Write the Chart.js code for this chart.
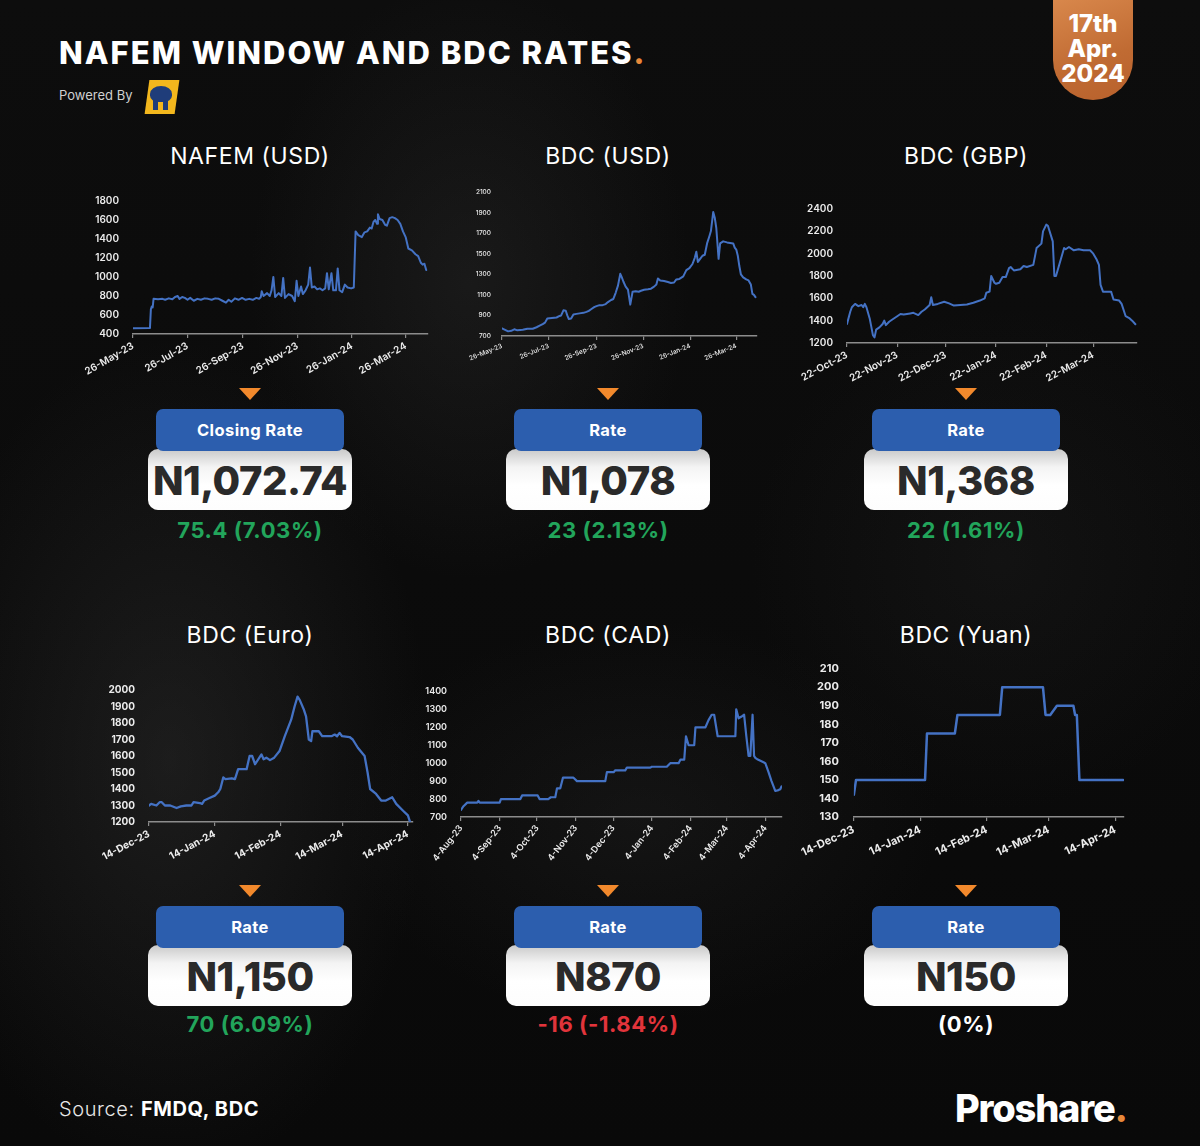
<!DOCTYPE html>
<html><head><meta charset="utf-8">
<script src="https://cdn.jsdelivr.net/npm/chart.js@4.4.1/dist/chart.umd.min.js"></script>
<style>
html,body{margin:0;padding:0;}
body{width:1200px;height:1146px;overflow:hidden;background:#0a0a0a;font-family:Inter,"Open Sans",sans-serif;}
#page{position:relative;width:1200px;height:1146px;overflow:hidden;
 background:
  radial-gradient(ellipse 260px 420px at 170px 760px, rgba(70,70,70,0.30), rgba(0,0,0,0) 100%),
  radial-gradient(ellipse 220px 300px at 470px 280px, rgba(60,60,60,0.28), rgba(0,0,0,0) 100%),
  radial-gradient(ellipse 300px 200px at 640px 820px, rgba(55,55,55,0.22), rgba(0,0,0,0) 100%),
  radial-gradient(ellipse 250px 250px at 1000px 560px, rgba(40,40,40,0.25), rgba(0,0,0,0) 100%),
  linear-gradient(#0d0d0d,#090909);}
.abs{position:absolute;}
canvas.ch{position:absolute;}
.title{left:59px;top:34px;color:#fff;font-weight:800;font-size:31px;letter-spacing:2px;white-space:nowrap;}
.dot{color:#e8883a;}
.powered{left:59px;top:87px;color:#d0d0d0;font-size:13px;font-weight:400;}
.badge{left:1053px;top:-2px;width:80px;height:102px;border-radius:0 0 40px 40px;
 background:linear-gradient(160deg,#d9884c,#c06b33 60%,#b8612c);color:#fff;font-weight:800;font-size:24px;line-height:25px;text-align:center;padding-top:13px;box-sizing:border-box;}
.ctitle{color:#fff;font-size:23px;font-weight:400;letter-spacing:0.6px;text-align:center;width:300px;margin-left:-150px;white-space:nowrap;}
.tri{width:0;height:0;border-left:11px solid transparent;border-right:11px solid transparent;border-top:12px solid #f2892c;margin-left:-11px;}
.blue{width:188px;height:42px;margin-left:-94px;background:#2c5eae;border-radius:7px;color:#fff;font-weight:700;font-size:16.5px;letter-spacing:0.4px;text-align:center;line-height:42px;z-index:2;}
.white{width:204px;height:61px;margin-left:-102px;border-radius:10px;background:linear-gradient(#c9c9c9 0%,#f4f4f4 30%,#ffffff 60%,#fdfdfd 100%);color:#2a2a2a;font-weight:800;font-size:40px;text-align:center;line-height:64px;letter-spacing:-0.5px;z-index:1;}
.chg{width:300px;margin-left:-150px;text-align:center;font-weight:700;font-size:22px;letter-spacing:0.6px;}
.green{color:#22a55b;}
.red{color:#e2343b;}
.wht{color:#fff;}
.src{left:59px;top:1097px;color:#e8e8e8;font-size:20px;font-weight:300;letter-spacing:0.6px;}
.src b{font-weight:700;color:#fff;}
.brand{left:955px;top:1085px;color:#fff;font-weight:800;font-size:38px;letter-spacing:-1.2px;}
</style></head>
<body><div id="page">
<div class="abs title">NAFEM WINDOW AND BDC RATES<span class="dot">.</span></div>
<div class="abs powered">Powered By</div>
<div class="abs" style="left:147px;top:80px;width:30px;height:34px;background:#f3b71d;transform:skewX(-8deg);"></div>
<div class="abs" style="left:150px;top:86px;width:22px;height:16px;background:#1f3d7a;border-radius:50% 50% 40% 40%;"></div>
<div class="abs" style="left:153px;top:100px;width:5px;height:10px;background:#1f3d7a;"></div>
<div class="abs" style="left:163px;top:100px;width:5px;height:10px;background:#1f3d7a;"></div>
<div class="abs badge">17th<br>Apr.<br>2024</div>

<div class="abs src">Source: <b>FMDQ, BDC</b></div>
<div class="abs brand">Proshare<span class="dot">.</span></div>
</div>
<script>
// ---------- DATA ----------
const chartTitles = ['NAFEM (USD)','BDC (USD)','BDC (GBP)','BDC (Euro)','BDC (CAD)','BDC (Yuan)'];
const boxLabels = ['Closing Rate','Rate','Rate','Rate','Rate','Rate'];
const rateValues = ['N1,072.74','N1,078','N1,368','N1,150','N870','N150'];
const rateChanges = ['75.4 (7.03%)','23 (2.13%)','22 (1.61%)','70 (6.09%)','-16 (-1.84%)','(0%)'];
const changeDir = ['up','up','up','up','down','flat'];

// NAFEM (USD): days since 26-May-23
const nafemTickDays = [0,61,123,184,245,305];
const nafemTickLabels = ['26-May-23','26-Jul-23','26-Sep-23','26-Nov-23','26-Jan-24','26-Mar-24'];
const nafemDays = [0,18,19,20,21,22,23,28,33,36,40,44,47,50,52,55,58,61,64,68,72,76,80,84,88,92,96,100,104,107,110,114,118,122,126,130,134,138,141,143,144,146,150,153,155,157,159,163,166,168,170,174,178,181,183,185,188,190,193,196,198,200,203,206,209,212,215,217,219,222,224,227,229,231,234,237,240,244,247,249,252,256,259,262,265,267,269,271,273,274,276,279,282,284,287,290,293,296,299,302,305,308,312,316,319,322,324,326,328];
const nafemRates = [460,462,470,660,690,680,770,765,770,760,775,765,790,800,770,790,780,760,780,750,770,760,775,770,760,775,770,750,730,760,740,775,760,780,760,770,760,780,770,790,850,800,830,800,860,1000,790,830,800,990,780,820,800,745,960,800,900,820,860,920,1100,890,900,870,880,860,880,1040,870,1040,860,860,1090,860,840,920,890,880,890,1480,1440,1420,1470,1480,1520,1510,1580,1600,1560,1660,1610,1600,1550,1540,1620,1630,1620,1600,1560,1480,1420,1300,1280,1240,1220,1150,1130,1140,1073];

// BDC (USD): days since 26-May-23
const usdTickDays = [0,61,123,184,245,305];
const usdTickLabels = ['26-May-23','26-Jul-23','26-Sep-23','26-Nov-23','26-Jan-24','26-Mar-24'];
const usdDays = [0,4,8,12,16,20,27,33,40,45,49,53,56,59,65,71,75,77,80,83,85,87,90,93,97,101,106,110,113,116,120,123,127,131,135,138,142,145,148,151,154,156,158,161,164,167,170,174,178,181,185,190,194,198,201,203,206,211,216,220,224,227,231,236,240,244,248,251,253,255,258,261,264,267,270,272,275,277,279,282,284,288,293,297,301,303,305,307,309,311,314,318,321,324,326,328,330];
const usdRates = [775,760,745,750,765,755,760,770,770,785,800,815,830,870,875,880,895,900,950,945,900,865,870,910,915,920,925,935,945,960,980,990,1000,1000,1010,1030,1050,1060,1120,1190,1305,1270,1230,1180,1150,1005,1130,1135,1130,1140,1150,1155,1160,1180,1200,1260,1240,1235,1225,1215,1220,1250,1255,1280,1340,1360,1400,1460,1520,1420,1450,1480,1490,1600,1670,1720,1905,1850,1750,1450,1600,1620,1610,1605,1600,1560,1540,1480,1380,1300,1270,1250,1240,1200,1110,1100,1078];

// BDC (GBP): days since 22-Oct-23
const gbpTickDays = [0,31,61,92,123,152];
const gbpTickLabels = ['22-Oct-23','22-Nov-23','22-Dec-23','22-Jan-24','22-Feb-24','22-Mar-24'];
const gbpDays = [0,2,3,5,7,9,10,11,12,14,16,17,18,20,22,23,24,26,28,31,33,35,37,39,41,44,46,48,51,52,53,56,60,63,66,70,74,78,82,85,86,88,89,91,92,94,96,98,100,101,103,107,109,111,115,117,120,121,123,124,127,128,129,131,134,135,137,140,143,146,150,152,154,155.5,156.5,158,163,164.5,168,169.5,172,174.5,176,178];
const gbpRates = [1370,1480,1520,1550,1530,1540,1520,1550,1520,1420,1270,1250,1320,1340,1370,1400,1360,1390,1410,1440,1460,1455,1460,1465,1470,1450,1480,1500,1540,1610,1540,1550,1570,1555,1535,1540,1545,1560,1580,1600,1650,1660,1800,1740,1730,1740,1790,1790,1870,1880,1850,1860,1890,1880,1900,2050,2090,2200,2260,2250,2110,1800,1800,1900,2050,2040,2060,2030,2040,2030,2030,2000,1950,1900,1720,1660,1660,1590,1580,1550,1440,1420,1400,1368];

// BDC (Euro): days since 14-Dec-23
const euroTickDays = [0,31,62,91,122];
const euroTickLabels = ['14-Dec-23','14-Jan-24','14-Feb-24','14-Mar-24','14-Apr-24'];
const euroDays = [0,1,3.5,5,6,7.5,10,13,15,17.6,20,21,24,25,26,28.5,31,32.6,33.6,35,36,39,40.5,42,46,47.4,48.6,50,52,53,54,55.3,57,59,61.5,64,67,68.6,70,71,73,74,75.3,76.4,77,80,81.6,86,87.5,88.6,89.8,91,94.5,96,98.4,101.6,103,104.2,107,109.4,111.6,114.6,116.5,119.6,122,124.3];
const euroRates = [1300,1310,1300,1320,1320,1300,1300,1285,1295,1300,1300,1320,1315,1310,1330,1345,1360,1380,1400,1470,1460,1465,1460,1520,1520,1600,1600,1550,1590,1610,1580,1590,1575,1590,1630,1720,1820,1900,1960,1940,1880,1840,1700,1690,1750,1750,1720,1720,1730,1720,1740,1720,1715,1700,1650,1600,1500,1400,1370,1330,1330,1350,1310,1270,1240,1150];

// BDC (CAD): days since 4-Aug-23
const cadTickDays = [0,31,61,92,122,153,184,213,244];
const cadTickLabels = ['4-Aug-23','4-Sep-23','4-Oct-23','4-Nov-23','4-Dec-23','4-Jan-24','4-Feb-24','4-Mar-24','4-Apr-24'];
const cadDays = [0,2,5,13,14,15,31,32,47.6,49,61.5,63,70,72,75.6,77,79.6,81.8,90,93,115.7,117,122.4,123.7,131.7,133,151.8,153,165,167.8,174.5,176,179,180.4,182.5,187,188,196,198.5,201,203,205.8,220,220.7,222.6,225,227,228.8,230.6,232,233.8,235,236,238,242.6,244,246.6,249,252,254.6,256,257];
const cadRates = [740,760,780,780,790,780,780,800,800,820,820,800,800,810,810,860,860,920,920,900,900,950,950,960,960,975,975,980,980,1000,1000,1020,1020,1150,1100,1100,1200,1200,1240,1270,1270,1150,1150,1300,1250,1260,1270,1150,1040,1040,1270,1040,1030,1020,1005,1000,950,900,845,850,855,870];

// BDC (Yuan): days since 14-Dec-23
const yuanTickDays = [0,31,62,91,122];
const yuanTickLabels = ['14-Dec-23','14-Jan-24','14-Feb-24','14-Mar-24','14-Apr-24'];
const yuanDays = [0,1,33.2,34.1,47.1,48.3,68.1,69.2,88.2,89.4,91.6,94.7,102.4,103.2,104,105.2,125.6];
const yuanRates = [142,150,150,175,175,185,185,200,200,185,185,190,190,185,185,150,150];

// ---------- LAYOUT / DRAW ----------
const YW = 52, PT = 10, PR = 6, XH = 56;
const charts = [
 {days:nafemDays, vals:nafemRates, tickDays:nafemTickDays, tickLabels:nafemTickLabels, xmax:330, ymin:400, ymax:1800, step:200,
  l:133, r:428, t:199, b:334, fs:10, fw:'600', rot:30, ypad:6, lw:2},
 {days:usdDays, vals:usdRates, tickDays:usdTickDays, tickLabels:usdTickLabels, xmax:332, ymin:700, ymax:2100, step:200,
  l:502, r:757, t:192, b:336, fs:6.5, fw:'500', rot:22, ypad:3, lw:2},
 {days:gbpDays, vals:gbpRates, tickDays:gbpTickDays, tickLabels:gbpTickLabels, xmax:179, ymin:1200, ymax:2400, step:200,
  l:847, r:1137, t:207, b:343, fs:10, fw:'600', rot:28, ypad:6, lw:2},
 {days:euroDays, vals:euroRates, tickDays:euroTickDays, tickLabels:euroTickLabels, xmax:124.4, ymin:1200, ymax:2000, step:100,
  l:149, r:413, t:688, b:822, fs:10, fw:'700', rot:28, ypad:6, lw:2.3},
 {days:cadDays, vals:cadRates, tickDays:cadTickDays, tickLabels:cadTickLabels, xmax:257.4, ymin:700, ymax:1400, step:100,
  l:461, r:782, t:690, b:817, fs:9, fw:'600', rot:52, ypad:6, lw:2.2},
 {days:yuanDays, vals:yuanRates, tickDays:yuanTickDays, tickLabels:yuanTickLabels, xmax:126, ymin:130, ymax:210, step:10,
  l:852, r:1124, t:665, b:817, fs:11, fw:'700', rot:25, ypad:7, lw:2.5}
];

const colX = [250, 608, 966];
const rowY = [{title:157, tri:388, blue:409, white:449, chg:531},
              {title:636, tri:885, blue:906, white:945, chg:1025}];

const page = document.getElementById('page');
function addDiv(cls, x, y, html){
  const d = document.createElement('div');
  d.className = 'abs ' + cls;
  d.style.left = x + 'px'; d.style.top = y + 'px';
  d.innerHTML = html;
  page.appendChild(d);
  return d;
}

charts.forEach((c, i) => {
  const col = i % 3, row = Math.floor(i / 3);
  const cx = colX[col], R = rowY[row];
  addDiv('ctitle', cx, R.title - 15, chartTitles[i]);
  addDiv('tri', cx, R.tri, '');
  addDiv('blue', cx, R.blue, boxLabels[i]);
  addDiv('white', cx, R.white, rateValues[i]);
  const cc = changeDir[i] === 'up' ? 'green' : (changeDir[i] === 'down' ? 'red' : 'wht');
  addDiv('chg ' + cc, cx, R.chg - 14, rateChanges[i]);

  const cv = document.createElement('canvas');
  cv.className = 'ch';
  const W = c.r - c.l + YW + PR, H = c.b - c.t + PT + XH;
  cv.width = W; cv.height = H;
  cv.style.left = (c.l - YW) + 'px'; cv.style.top = (c.t - PT) + 'px';
  cv.style.width = W + 'px'; cv.style.height = H + 'px';
  page.appendChild(cv);
  const font = {family:'Inter, "Open Sans", sans-serif', size:c.fs, weight:c.fw};
  new Chart(cv, {
    type:'line',
    data:{datasets:[{data:c.days.map((d,k)=>({x:d, y:c.vals[k]})), borderColor:'#4472C4', borderWidth:c.lw,
      pointRadius:0, tension:0, fill:false, borderJoinStyle:'round', borderCapStyle:'round'}]},
    options:{
      responsive:false, animation:false, events:[],
      layout:{padding:{top:PT, right:PR, left:0, bottom:0}},
      plugins:{legend:{display:false}, tooltip:{enabled:false}},
      scales:{
        x:{type:'linear', min:0, max:c.xmax,
          afterBuildTicks:s=>{ s.ticks = c.tickDays.map(v=>({value:v})); },
          afterFit:s=>{ s.height = XH; },
          ticks:{autoSkip:false, minRotation:c.rot, maxRotation:c.rot, color:'#ececec', font:font, padding:2,
            callback:(v)=>{ const k = c.tickDays.indexOf(v); return k >= 0 ? c.tickLabels[k] : ''; }},
          grid:{display:true, drawOnChartArea:false, drawTicks:true, tickLength:4, color:'#8c8c8c', lineWidth:1.2},
          border:{display:true, color:'#8c8c8c', width:1.5}
        },
        y:{min:c.ymin, max:c.ymax,
          afterFit:s=>{ s.width = YW; },
          ticks:{stepSize:c.step, color:'#ececec', font:font, padding:c.ypad, callback:v=>String(v)},
          grid:{display:false}, border:{display:false}
        }
      }
    }
  });
});
</script>
</body></html>
